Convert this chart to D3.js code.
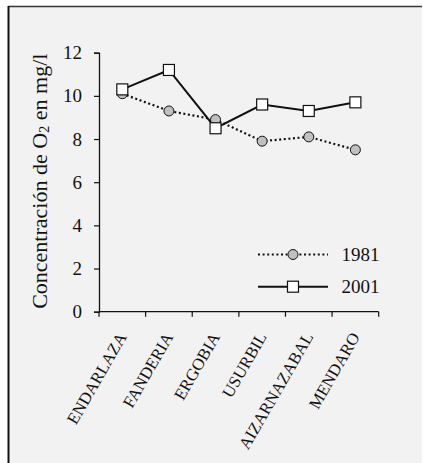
<!DOCTYPE html>
<html>
<head>
<meta charset="utf-8">
<script src="https://cdn.jsdelivr.net/npm/d3@7"></script>
<style>
  html, body { margin: 0; padding: 0; background: #ffffff; }
  svg { display: block; }
  text { font-family: "Liberation Serif", "Times New Roman", serif; fill: #111; }
</style>
</head>
<body>
<svg id="chart" width="423" height="463"></svg>
<script>
// Dissolved oxygen concentration by sampling station
const stations = ["ENDARLAZA", "FANDERIA", "ERGOBIA", "USURBIL", "AIZARNAZABAL", "MENDARO"];
const o2_1981 = [10.1, 9.3, 8.9, 7.9, 8.1, 7.5];
const o2_2001 = [10.3, 11.2, 8.5, 9.6, 9.3, 9.7];
const yTicks = [0, 2, 4, 6, 8, 10, 12];
const seriesNames = ["1981", "2001"];

const svg = d3.select("#chart");

// panel background and frame
svg.append("rect").attr("x", 8).attr("y", 6).attr("width", 414).attr("height", 460)
  .attr("fill", "#f2f2f2");
svg.append("line").attr("x1", 8).attr("x2", 422).attr("y1", 6.5).attr("y2", 6.5)
  .attr("stroke", "#333").attr("stroke-width", 1.5);
svg.append("line").attr("x1", 8.5).attr("x2", 8.5).attr("y1", 6).attr("y2", 463)
  .attr("stroke", "#111").attr("stroke-width", 2);

const plot = { left: 99, right: 378.7, top: 52.7, bottom: 311.7 };

const x = d3.scaleBand().domain(stations).range([plot.left, plot.right]);
const y = d3.scaleLinear().domain([0, 12]).range([plot.bottom, plot.top]);

// y axis
const yAxis = svg.append("g").attr("transform", `translate(${plot.left},0)`)
  .call(d3.axisLeft(y).tickValues(yTicks).tickSize(5).tickPadding(12).tickFormat(d3.format("d")));
yAxis.select(".domain").attr("stroke", "#111").attr("stroke-width", 1.3);
yAxis.selectAll(".tick line").attr("stroke", "#111").attr("stroke-width", 1.2);
yAxis.selectAll(".tick text").attr("font-size", 19).attr("fill", "#222")
  .attr("font-family", "Liberation Serif, serif");

// x axis: ticks on category boundaries
const xAxisG = svg.append("g").attr("transform", `translate(0,${plot.bottom})`);
xAxisG.append("line").attr("x1", plot.left).attr("x2", plot.right)
  .attr("stroke", "#111").attr("stroke-width", 1.3);
const bounds = stations.map(s => x(s)).concat([x(stations[stations.length - 1]) + x.bandwidth()]);
xAxisG.selectAll("line.tk").data(bounds).join("line").attr("class", "tk")
  .attr("x1", d => d).attr("x2", d => d).attr("y1", 0).attr("y2", 5)
  .attr("stroke", "#111").attr("stroke-width", 1.2);
xAxisG.selectAll("text.cat").data(stations).join("text").attr("class", "cat")
  .attr("transform", d => `translate(${x(d) + x.bandwidth() / 2 + 5},${25}) rotate(-60)`)
  .attr("text-anchor", "end")
  .attr("font-size", 16.8)
  .text(d => d);

// y axis title
svg.append("text")
  .attr("transform", `translate(47,${(plot.top + plot.bottom) / 2 - 1}) rotate(-90)`)
  .attr("text-anchor", "middle")
  .attr("font-size", 22)
  .html('Concentración de O<tspan font-size="14.5" dy="2">2</tspan><tspan dy="-2"> en mg/l</tspan>');

const cx = (d, i) => x(stations[i]) + x.bandwidth() / 2;
const line = d3.line().x((d, i) => cx(d, i)).y(d => y(d));

// 1981: dotted line with grey circles
svg.append("path").datum(o2_1981).attr("d", line)
  .attr("fill", "none").attr("stroke", "#111").attr("stroke-width", 2.2)
  .attr("stroke-dasharray", "2,2.6");
// 2001: solid line with white squares
svg.append("path").datum(o2_2001).attr("d", line)
  .attr("fill", "none").attr("stroke", "#111").attr("stroke-width", 2);

svg.selectAll("circle.m81").data(o2_1981).join("circle").attr("class", "m81")
  .attr("cx", cx).attr("cy", d => y(d)).attr("r", 5)
  .attr("fill", "#c0c0c0").attr("stroke", "#111").attr("stroke-width", 1);

const sq = 11;
svg.selectAll("rect.m01").data(o2_2001).join("rect").attr("class", "m01")
  .attr("x", (d, i) => cx(d, i) - sq / 2).attr("y", d => y(d) - sq / 2)
  .attr("width", sq).attr("height", sq)
  .attr("fill", "#ffffff").attr("stroke", "#111").attr("stroke-width", 1.2);

// legend
const lg = svg.append("g");
const legendRows = [
  { name: seriesNames[0], y: 254.5, dash: "2,2.6", marker: "circle" },
  { name: seriesNames[1], y: 286.7, dash: null, marker: "square" }
];
legendRows.forEach(r => {
  lg.append("line").attr("x1", 258).attr("x2", 328).attr("y1", r.y).attr("y2", r.y)
    .attr("stroke", "#111").attr("stroke-width", r.dash ? 2.2 : 2)
    .attr("stroke-dasharray", r.dash);
  if (r.marker === "circle") {
    lg.append("circle").attr("cx", 293).attr("cy", r.y).attr("r", 5)
      .attr("fill", "#c0c0c0").attr("stroke", "#111").attr("stroke-width", 1);
  } else {
    lg.append("rect").attr("x", 293 - sq / 2).attr("y", r.y - sq / 2)
      .attr("width", sq).attr("height", sq)
      .attr("fill", "#ffffff").attr("stroke", "#111").attr("stroke-width", 1.2);
  }
  lg.append("text").attr("x", 341.5).attr("y", r.y + 6).attr("font-size", 19).attr("fill", "#222")
    .text(r.name);
});
</script>
</body>
</html>
